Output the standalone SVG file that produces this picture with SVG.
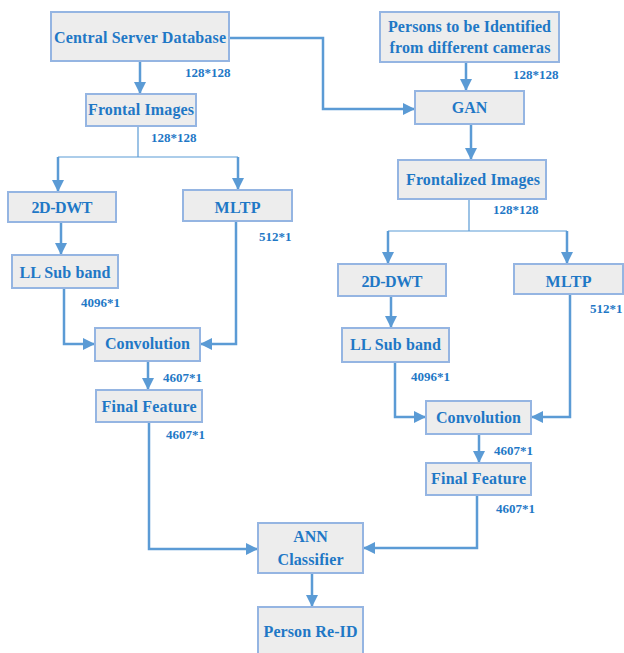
<svg xmlns="http://www.w3.org/2000/svg" width="624" height="653" viewBox="0 0 624 653">
<style>
.box{fill:#EDEDED;stroke:#95B5E2;stroke-width:2}
.t{font-family:"Liberation Serif","Times New Roman",serif;font-weight:bold;font-size:16px;fill:#1F78C6;text-anchor:middle}
.l{font-family:"Liberation Serif","Times New Roman",serif;font-weight:bold;font-size:13px;fill:#1F78C6}
.c{fill:none;stroke:#5B9BD5;stroke-width:2.5}
.thin{fill:none;stroke:#5B9BD5;stroke-width:1.2}
</style>
<defs>
<marker id="ah" markerUnits="userSpaceOnUse" markerWidth="12" markerHeight="12" viewBox="0 0 10 10" refX="10" refY="5" orient="auto">
<path d="M0,0 L10,5 L0,10 z" fill="#5B9BD5"/>
</marker>
</defs>
<rect width="624" height="653" fill="#FFFFFF"/>
<g id="connectors">
<path class="c" d="M140,61 V94" marker-end="url(#ah)"/>
<path class="c" d="M229,38 H323 V109 H415" marker-end="url(#ah)"/>
<path class="c" d="M466,62 V91" marker-end="url(#ah)"/>
<path class="c" d="M471,124 V160" marker-end="url(#ah)"/>
<path class="thin" d="M138,126 V157 M58,157 H238"/>
<path class="c" d="M58,157 V192" marker-end="url(#ah)"/>
<path class="c" d="M238,157 V190" marker-end="url(#ah)"/>
<path class="c" d="M61,222 V255" marker-end="url(#ah)"/>
<path class="c" d="M64,288 V344 H95" marker-end="url(#ah)"/>
<path class="c" d="M236,221 V344 H200" marker-end="url(#ah)"/>
<path class="c" d="M148,361 V390" marker-end="url(#ah)"/>
<path class="c" d="M149,422 V549 H258" marker-end="url(#ah)"/>
<path class="thin" d="M469,199 V231 M388,231 H567"/>
<path class="c" d="M388,231 V264" marker-end="url(#ah)"/>
<path class="c" d="M567,231 V264" marker-end="url(#ah)"/>
<path class="c" d="M391,296 V328" marker-end="url(#ah)"/>
<path class="c" d="M395,362 V417 H426" marker-end="url(#ah)"/>
<path class="c" d="M570,294 V417 H531" marker-end="url(#ah)"/>
<path class="c" d="M479,434 V463" marker-end="url(#ah)"/>
<path class="c" d="M477,495 V548 H363" marker-end="url(#ah)"/>
<path class="c" d="M312,573 V607" marker-end="url(#ah)"/>
</g>
<g id="central"><rect class="box" x="51" y="12" width="178" height="49"/><text class="t" x="140" y="43" textLength="172" lengthAdjust="spacing">Central Server Database</text></g>
<g id="persons"><rect class="box" x="380" y="12" width="179" height="50"/><text class="t" x="469.5" y="32" textLength="163" lengthAdjust="spacing">Persons to be Identified</text><text class="t" x="470" y="53" textLength="161" lengthAdjust="spacing">from different cameras</text></g>
<g id="frontal"><rect class="box" x="86" y="94" width="110" height="32"/><text class="t" x="141" y="115" textLength="106" lengthAdjust="spacing">Frontal Images</text></g>
<g id="gan"><rect class="box" x="415" y="91" width="109" height="33"/><text class="t" x="469.5" y="113">GAN</text></g>
<g id="frontalized"><rect class="box" x="398" y="160" width="148" height="39"/><text class="t" x="473" y="185" textLength="134" lengthAdjust="spacing">Frontalized Images</text></g>
<g id="dwt-left"><rect class="box" x="8" y="192" width="108" height="30"/><text class="t" x="62" y="213" textLength="61" lengthAdjust="spacing">2D-DWT</text></g>
<g id="mltp-left"><rect class="box" x="183" y="190" width="109" height="31"/><text class="t" x="237.5" y="213" textLength="46" lengthAdjust="spacing">MLTP</text></g>
<g id="ll-left"><rect class="box" x="12" y="255" width="106" height="33"/><text class="t" x="65" y="278" textLength="91" lengthAdjust="spacing">LL Sub band</text></g>
<g id="conv-left"><rect class="box" x="95" y="328" width="105" height="33"/><text class="t" x="147.5" y="349" textLength="85" lengthAdjust="spacing">Convolution</text></g>
<g id="final-left"><rect class="box" x="96" y="390" width="106" height="32"/><text class="t" x="149" y="412" textLength="95" lengthAdjust="spacing">Final Feature</text></g>
<g id="dwt-right"><rect class="box" x="338" y="264" width="108" height="32"/><text class="t" x="392" y="287" textLength="61" lengthAdjust="spacing">2D-DWT</text></g>
<g id="mltp-right"><rect class="box" x="514" y="264" width="109" height="30"/><text class="t" x="568.5" y="287" textLength="46" lengthAdjust="spacing">MLTP</text></g>
<g id="ll-right"><rect class="box" x="342" y="328" width="107" height="34"/><text class="t" x="395.5" y="350" textLength="91" lengthAdjust="spacing">LL Sub band</text></g>
<g id="conv-right"><rect class="box" x="426" y="401" width="105" height="33"/><text class="t" x="478.5" y="423" textLength="85" lengthAdjust="spacing">Convolution</text></g>
<g id="final-right"><rect class="box" x="426" y="463" width="105" height="32"/><text class="t" x="478.5" y="484" textLength="95" lengthAdjust="spacing">Final Feature</text></g>
<g id="ann"><rect class="box" x="258" y="523" width="105" height="50"/><text class="t" x="310.5" y="542">ANN</text><text class="t" x="310.5" y="565" textLength="66" lengthAdjust="spacing">Classifier</text></g>
<g id="reid"><rect class="box" x="258" y="607" width="105" height="52"/><text class="t" x="310.5" y="637" textLength="94" lengthAdjust="spacing">Person Re-ID</text></g>
<g id="labels">
<text class="l" x="185" y="77">128*128</text>
<text class="l" x="151" y="142">128*128</text>
<text class="l" x="513" y="79">128*128</text>
<text class="l" x="493" y="214">128*128</text>
<text class="l" x="259" y="241">512*1</text>
<text class="l" x="81" y="307">4096*1</text>
<text class="l" x="163" y="382">4607*1</text>
<text class="l" x="166" y="439">4607*1</text>
<text class="l" x="590" y="313">512*1</text>
<text class="l" x="411" y="381">4096*1</text>
<text class="l" x="494" y="455">4607*1</text>
<text class="l" x="496" y="513">4607*1</text>
</g>
</svg>
